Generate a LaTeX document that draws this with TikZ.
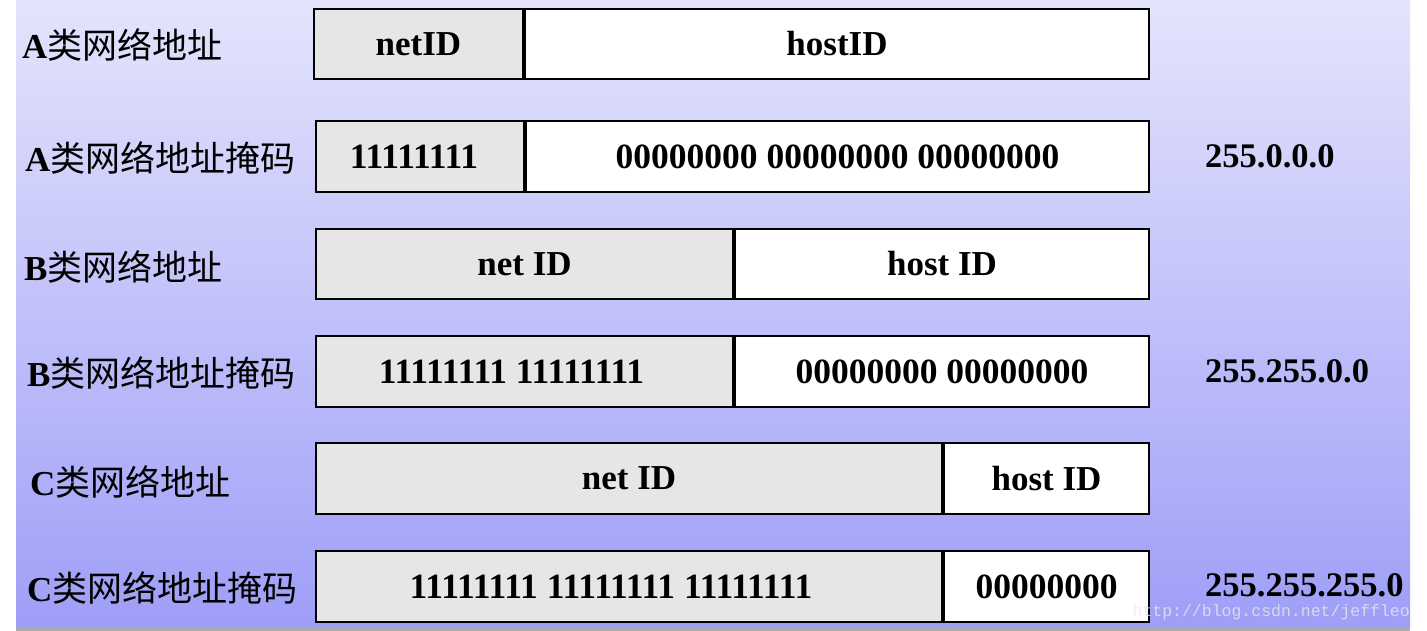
\documentclass[tikz,border=0pt]{standalone}
\usepackage{fontspec}
\setmainfont{Liberation Serif}
\newfontfamily\cjk{Noto Sans CJK SC}
\newfontfamily\wmfont{Liberation Mono}

\definecolor{bgtop}{RGB}{228,228,252}
\definecolor{bgbottom}{RGB}{158,158,248}
\definecolor{netgray}{RGB}{230,230,230}

\begin{document}
\begin{tikzpicture}[x=1pt, y=-1pt,
    cell/.style={draw, line width=2pt, inner sep=0pt, anchor=north west,
      font=\bfseries\fontsize{35}{35}\selectfont},
    netcell/.style={cell, fill=netgray},
    hostcell/.style={cell, fill=white},
    bits/.style={font=\bfseries\fontsize{35.5}{35.5}\selectfont},
    classlabel/.style={anchor=west, inner sep=0pt, font=\fontsize{35}{35}\selectfont},
    masklabel/.style={anchor=west, inner sep=0pt, font=\bfseries\fontsize{34.5}{34.5}\selectfont}]
  \useasboundingbox (0,0) rectangle (1427,631);

  % background panel
  \shade[top color=bgtop, bottom color=bgbottom] (16,0) rectangle (1410,627);
  \fill[black!33] (16,627) rectangle (1410,631);

  % A class
  \node[classlabel] (labA) at (22,45) {{\bfseries A}{\cjk\mdseries 类网络地址}};
  \node[netcell, minimum width=209pt, minimum height=70pt] (netA) at (313,8) {netID};
  \node[hostcell, minimum width=624pt, minimum height=70pt] (hostA) at (netA.north east) {hostID};

  \node[classlabel] (labAmask) at (25,158) {{\bfseries A}{\cjk\mdseries 类网络地址掩码}};
  \node[netcell, bits, minimum width=208pt, minimum height=71pt] (netAmask) at (315,120) {11111111\hspace*{12pt}};
  \node[hostcell, bits, minimum width=623pt, minimum height=71pt] (hostAmask) at (netAmask.north east) {00000000 00000000 00000000};
  \node[masklabel] (maskA) at (1205,156) {255.0.0.0};

  % B class
  \node[classlabel] (labB) at (24,267) {{\bfseries B}{\cjk\mdseries 类网络地址}};
  \node[netcell, minimum width=417pt, minimum height=70pt] (netB) at (315,228) {net ID};
  \node[hostcell, minimum width=414pt, minimum height=70pt] (hostB) at (netB.north east) {host ID};

  \node[classlabel] (labBmask) at (27,373) {{\bfseries B}{\cjk\mdseries 类网络地址掩码}};
  \node[netcell, bits, minimum width=417pt, minimum height=71pt] (netBmask) at (315,335) {11111111 11111111\hspace*{26pt}};
  \node[hostcell, bits, minimum width=414pt, minimum height=71pt] (hostBmask) at (netBmask.north east) {00000000 00000000};
  \node[masklabel] (maskB) at (1205,371) {255.255.0.0};

  % C class
  \node[classlabel] (labC) at (30,482) {{\bfseries C}{\cjk\mdseries 类网络地址}};
  \node[netcell, minimum width=626pt, minimum height=71pt] (netC) at (315,442) {net ID};
  \node[hostcell, minimum width=205pt, minimum height=71pt] (hostC) at (netC.north east) {host ID};

  \node[classlabel] (labCmask) at (27,588) {{\bfseries C}{\cjk\mdseries 类网络地址掩码}};
  \node[netcell, bits, minimum width=626pt, minimum height=71pt] (netCmask) at (315,550) {11111111 11111111 11111111\hspace*{36pt}};
  \node[hostcell, bits, minimum width=205pt, minimum height=71pt] (hostCmask) at (netCmask.north east) {00000000};
  \node[masklabel] (maskC) at (1205,585) {255.255.255.0};

  % watermark
  \node[anchor=south east, inner sep=0pt, text=white!82!gray, opacity=0.8,
    font=\wmfont\fontsize{16.5}{16.5}\selectfont] (mark) at (1410,620) {http://blog.csdn.net/jeffleo};
\end{tikzpicture}
\end{document}
